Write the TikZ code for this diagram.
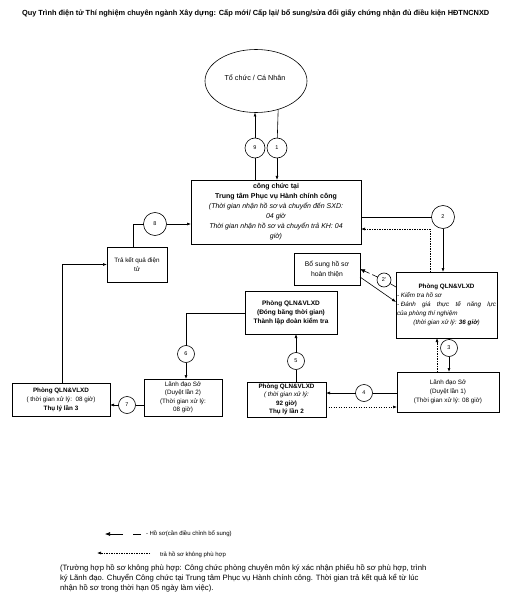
\documentclass[tikz,border=0pt]{standalone}
\usepackage{fontspec}
\setmainfont{Liberation Sans}
\usetikzlibrary{arrows.meta,shapes.geometric}
\begin{document}
\begin{tikzpicture}[x=1pt,y=-1pt,
  line width=0.6pt,
  box/.style={draw, inner sep=1pt, outer sep=0pt, align=center, font=\fontsize{6.5}{9}\selectfont},
  num/.style={draw, circle, inner sep=0pt, outer sep=0pt, fill=white, font=\fontsize{5.5}{6}\selectfont},
  arr/.style={-{Latex[length=4pt,width=3pt]}},
  dotarr/.style={-{Latex[length=4pt,width=3pt]}, dash pattern=on 1.2pt off 1.3pt},
  dasharr/.style={-{Latex[length=5pt,width=4pt]}, dash pattern=on 6pt off 3pt},
  txt/.style={inner sep=0pt, outer sep=0pt}
]
\useasboundingbox (0,0) rectangle (511,612);
\fill[white] (0,0) rectangle (511,612);

% title
\node[txt, anchor=west, font=\fontsize{7.4}{8}\selectfont\bfseries] (title) at (22,13)
  {Quy Trình điện tử Thí nghiệm chuyên ngành Xây dựng: Cấp mới/ Cấp lại/ bổ sung/sửa đổi giấy chứng nhận đủ điều kiện HĐTNCNXD};

% ellipse
\node[draw, ellipse, minimum width=102pt, minimum height=63pt, inner sep=0pt, outer sep=0pt] (ell) at (256,81) {};
\node[txt, font=\fontsize{7.2}{8}\selectfont] (elltxt) at (255,78) {Tổ chức / Cá Nhân};

% boxes
\node[box, minimum width=170pt, minimum height=64pt, font=\fontsize{7}{10}\selectfont] (main) at (276,212)
  {\textbf{công chức tại}\\ \textbf{Trung tâm Phục vụ Hành chính công}\\ \textit{(Thời gian nhận hồ sơ và chuyển đến SXD:}\\ \textit{04 giờ}\\ \textit{Thời gian nhận hồ sơ và chuyển trả KH: 04}\\ \textit{giờ)}};

\node[box, minimum width=60pt, minimum height=35pt, font=\fontsize{6.3}{9}\selectfont] (tra) at (137,264.5)
  {Trả kết quả điện\\ tử};

\node[box, minimum width=66pt, minimum height=32pt, font=\fontsize{6.8}{10}\selectfont] (bosung) at (327,269)
  {Bổ sung hồ sơ\\ hoàn thiện};

\node[box, minimum width=101pt, minimum height=66pt, inner sep=0pt, font=\fontsize{6.3}{9}\selectfont] (phong1) at (446.5,305)
  {\makebox[99pt][c]{\textbf{Phòng QLN\&VLXD}}\\
   \makebox[99pt][l]{\textit{- Kiểm tra hồ sơ}}\\
   \makebox[99pt][s]{\textit{- Đánh\hfill giá\hfill thực\hfill tế\hfill năng\hfill lực}}\\
   \makebox[99pt][l]{\textit{của phòng thí nghiệm}}\\
   \makebox[99pt][c]{\textit{(thời gian xử lý: \textbf{36 giờ})}}};

\node[box, minimum width=92pt, minimum height=43pt, font=\fontsize{6.5}{9}\selectfont\bfseries] (db) at (291,312.5)
  {Phòng QLN\&VLXD\\ (Đóng băng thời gian)\\ Thành lập đoàn kiểm tra};

\node[box, minimum width=78pt, minimum height=37pt, font=\fontsize{6.3}{8.5}\selectfont] (ld2) at (183,397.5)
  {Lãnh đạo Sở\\ (Duyệt lần 2)\\ (Thời gian xử lý:\\ 08 giờ)};

\node[box, minimum width=98pt, minimum height=33pt, font=\fontsize{6.3}{9}\selectfont] (tl3) at (61,399.5)
  {\textbf{Phòng QLN\&VLXD}\\ ( thời gian xử lý:\ \ 08 giờ)\\ \textbf{Thụ lý lần 3}};

\node[box, minimum width=79pt, minimum height=35pt, font=\fontsize{6.3}{8.5}\selectfont] (tl2) at (286.5,399.5)
  {\textbf{Phòng QLN\&VLXD}\\ \textit{( thời gian xử lý:}\\ \textbf{92 giờ)}\\ \textbf{Thụ lý lần 2}};

\node[box, minimum width=102pt, minimum height=40pt, font=\fontsize{6.3}{9}\selectfont] (ld1) at (448,392)
  {Lãnh đạo Sở\\ (Duyệt lần 1)\\ (Thời gian xử lý: 08 giờ)};

% number circles
\node[num, minimum size=20pt] (c9) at (255,148) {9};
\node[num, minimum size=20pt] (c1) at (277,148) {1};
\node[num, minimum size=23pt] (c8) at (155,224) {8};
\node[num, minimum size=23pt] (c2) at (443,217) {2};
\node[num, minimum size=14pt] (c2p) at (384,280) {2'};
\node[num, minimum size=17pt] (c6) at (186,354) {6};
\node[num, minimum size=17pt] (c5) at (296,361) {5};
\node[num, minimum size=17pt] (c7) at (127,405) {7};
\node[num, minimum size=17pt] (c4) at (364,393) {4};
\node[num, minimum size=17pt] (c3) at (449,348) {3};

% helper coordinates
\coordinate (k8) at (133,224);
\coordinate (k7) at (62,265);
\coordinate (k6) at (186,313);
\coordinate (k4d) at (330,407);
\coordinate (k3d) at (437,355);
\coordinate (k2d) at (430,229);
\coordinate (p2a) at (396,287);
\coordinate (p2b) at (360,269);
\coordinate (q2a) at (360,277);
\coordinate (q2b) at (396,302);

% connectors
\draw (main.north -| c9) -- (c9);
\draw[arr] (c9) -- (ell.south -| c9);
\draw (ell.-52.5) -- (c1);
\draw[arr] (c1) -- (main.north -| c1);

\draw (tra.north -| k8) -- (k8) -- (c8);
\draw[arr] (c8) -- (c8 -| main.west);

\draw[arr] (tl3.north -| k7) |- (tra.west);

\draw (ld2.west |- c7) -- (c7);
\draw[arr] (c7) -- (tl3.east |- c7);

\draw (db.west |- k6) -- (k6) -- (c6);
\draw[arr] (c6) -- (ld2.north -| c6);

\draw (tl2.north -| c5) -- (c5);
\draw[arr] (c5) -- (db.south -| c5);

\draw (ld1.west |- c4) -- (c4);
\draw[arr] (c4) -- (tl2.east |- c4);
\draw[dotarr] (tl2.east |- k4d) -- (ld1.west |- k4d);

\draw (phong1.south -| c3) -- (c3);
\draw[arr] (c3) -- (ld1.north -| c3);
\draw[dotarr] (ld1.north -| k3d) -- (phong1.south -| k3d);

\draw (main.east |- c2) -- (c2);
\draw[arr] (c2) -- (phong1.north -| c2);
\draw[dotarr] (phong1.north -| k2d) -- (k2d) -- (main.east |- k2d);

\draw (p2a) -- (c2p);
\draw[dasharr] (c2p) -- (p2b);
\draw[arr] (q2a) -- (q2b);

% legend
\coordinate (lg1a) at (141,534);
\coordinate (lg1b) at (105,534);
\draw[-{Latex[length=5pt,width=4pt]}, dash pattern=on 8pt off 10pt on 30pt] (lg1a) -- (lg1b);
\node[txt, anchor=west, font=\fontsize{6}{7}\selectfont] (lg1t) at (146,534) {- Hồ sơ(cần điều chỉnh bổ sung)};
\coordinate (lg2a) at (150,553);
\coordinate (lg2b) at (97,553);
\draw[dotarr] (lg2a) -- (lg2b);
\node[txt, anchor=west, font=\fontsize{6}{7}\selectfont] (lg2t) at (160,555) {trả hồ sơ không phù hợp};

% note
\node[txt, anchor=north west, align=left, font=\fontsize{7.7}{10}\selectfont] (note) at (60,565)
  {(Trường hợp hồ sơ không phù hợp: Công chức phòng chuyên môn ký xác nhận phiếu hồ sơ phù hợp, trình\\
   ký Lãnh đạo. Chuyển Công chức tại Trung tâm Phục vụ Hành chính công. Thời gian trả kết quả kể từ lúc\\
   nhận hồ sơ trong thời hạn 05 ngày làm việc).};
\end{tikzpicture}
\end{document}
